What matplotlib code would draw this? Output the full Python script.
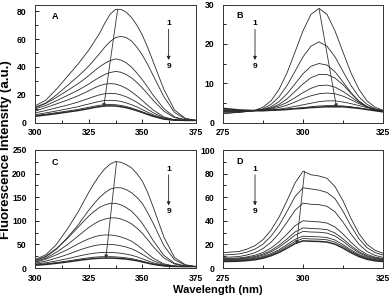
import matplotlib.pyplot as plt
from matplotlib.ticker import MultipleLocator

plt.rcParams['font.family'] = ['Liberation Sans', 'DejaVu Sans']
plt.rcParams['font.weight'] = 'bold'

# wavelengths (nm)
wl_ac = [300, 305, 310, 315, 320, 322.5, 325, 327.5, 330, 332.5, 335, 337.5, 340,
         342.5, 345, 347.5, 350, 352.5, 355, 360, 365, 370, 375]
wl_bd = [275, 277.5, 280, 282.5, 285, 287.5, 290, 292.5, 295, 297.5, 300,
         302.5, 305, 307.5, 310, 312.5, 315, 317.5, 320, 322.5, 325]

# panel A, spectra 1..9
panel_a = [
    [12, 16, 24, 33, 42, 47, 52, 58, 64, 71.5, 78, 81.5, 81.5, 79.5, 75.5, 70, 63, 54, 44, 24, 9, 3, 1.5],
    [11, 14.0, 19.9, 26.5, 33.2, 36.8, 40.6, 45, 49.5, 54.3, 58.3, 61.2, 62, 61.2, 58.6, 54.2, 48.6, 41.8, 34.0, 18.7, 7.2, 2.6, 1.5],
    [10.5, 13.7, 18.1, 22.9, 27.9, 30.7, 33.7, 37, 40.0, 42.6, 44.6, 45.8, 45.0, 43, 39.8, 35.6, 30.8, 25.4, 19.8, 10.0, 4.0, 1.9, 1.5],
    [9.8, 12.2, 15.7, 19.4, 23.2, 25.4, 27.7, 30.2, 32.5, 34.6, 36.0, 36.8, 36.2, 34.6, 32.1, 28.8, 24.9, 20.6, 16.1, 8.2, 3.5, 1.9, 1.5],
    [8.2, 10.7, 13.4, 16.1, 19.2, 21.0, 22.8, 24.8, 26.5, 27.6, 28, 27.7, 26.5, 24.6, 22.1, 19.1, 15.8, 12.4, 9.1, 4.0, 2.0, 1.5, 1.5],
    [6.9, 8.6, 10.6, 12.5, 14.7, 16.0, 17.3, 18.7, 19.9, 20.7, 21, 20.8, 19.9, 18.5, 16.7, 14.5, 12.0, 9.5, 7.1, 3.4, 1.9, 1.5, 1.5],
    [5.6, 6.9, 8.3, 9.8, 11.4, 12.4, 13.3, 14.3, 15.2, 15.8, 16, 15.8, 15.2, 14.1, 12.8, 11.2, 9.3, 7.4, 5.6, 2.9, 1.8, 1.5, 1.5],
    [5.0, 6.0, 7.1, 8.2, 9.4, 10.2, 10.9, 11.7, 12.4, 12.9, 13, 12.8, 12.3, 11.5, 10.4, 9.1, 7.7, 6.2, 4.8, 2.6, 1.7, 1.5, 1.5],
    [4.5, 5.4, 6.4, 7.5, 8.6, 9.3, 10.0, 10.8, 11.4, 11.9, 12, 11.9, 11.4, 10.7, 9.7, 8.5, 7.2, 5.8, 4.5, 2.5, 1.7, 1.5, 1.5],
]

# panel B
panel_b = [
    [2.2, 2.4, 2.6, 2.8, 3.1, 3.9, 5.5, 8.4, 12.6, 17.9, 23.3, 27.5, 29, 27.5, 23.3, 17.9, 12.6, 8.4, 5.5, 3.9, 3.1],
    [2.4, 2.5, 2.6, 2.8, 3.0, 3.5, 4.6, 6.5, 9.4, 13.0, 16.7, 19.4, 20.5, 19.4, 16.7, 13.0, 9.4, 6.5, 4.6, 3.5, 3.0],
    [2.6, 2.7, 2.7, 2.8, 3.0, 3.3, 4.0, 5.3, 7.3, 9.8, 12.4, 14.3, 15.0, 14.6, 12.9, 10.3, 7.6, 5.4, 4.0, 3.2, 2.9],
    [2.8, 2.8, 2.8, 2.9, 3.0, 3.2, 3.7, 4.6, 6.0, 7.9, 9.8, 11.4, 12.2, 12.2, 11.3, 9.6, 7.4, 5.4, 4.0, 3.2, 2.9],
    [2.9, 2.9, 2.9, 3.0, 3.1, 3.3, 3.6, 4.2, 5.1, 6.3, 7.6, 8.7, 9.4, 9.5, 9.0, 7.9, 6.5, 5.1, 4.0, 3.3, 2.9],
    [3.0, 3.0, 3.0, 3.0, 3.1, 3.2, 3.4, 3.8, 4.4, 5.2, 6.1, 6.8, 7.3, 7.5, 7.3, 6.7, 5.8, 4.8, 4.0, 3.4, 3.0],
    [3.1, 3.1, 3.1, 3.1, 3.1, 3.2, 3.2, 3.4, 3.7, 4.1, 4.5, 4.9, 5.3, 5.5, 5.5, 5.2, 4.8, 4.3, 3.8, 3.3, 3.0],
    [3.3, 3.2, 3.1, 3.0, 3.0, 3.0, 3.1, 3.2, 3.4, 3.6, 3.8, 4.0, 4.2, 4.3, 4.3, 4.2, 4.0, 3.7, 3.4, 3.1, 2.8],
    [3.6, 3.4, 3.2, 3.1, 3.0, 3.0, 3.1, 3.2, 3.3, 3.5, 3.6, 3.8, 3.9, 4.0, 4.0, 4.0, 3.8, 3.6, 3.3, 3.0, 2.7],
]

# panel C
panel_c = [
    [18, 28, 50, 82, 118, 139, 160, 179, 196, 210, 220, 225.5, 224, 219, 212, 200, 184, 160, 130, 66, 22, 7, 3],
    [16, 23.5, 39.9, 63.9, 90.7, 106.5, 122.1, 136.2, 149.1, 159.2, 167.1, 170, 170, 166, 159.5, 149.5, 136.8, 117, 95.2, 47.6, 17.4, 6.0, 3],
    [15.2, 24.9, 41.4, 62.1, 86.0, 98.2, 109.9, 119.8, 128.3, 133.6, 136.9, 137, 133.8, 128, 120.3, 108.5, 94.4, 77, 58.4, 26.9, 10.0, 4.2, 3],
    [13.4, 20.8, 33.4, 49.2, 67.4, 76.7, 85.6, 93.2, 99.6, 103.6, 106.1, 106.2, 103.8, 99.5, 93.4, 84.4, 73.4, 60, 45.6, 21.4, 8.4, 3.9, 3],
    [12.0, 18.5, 28.0, 38.6, 51.0, 56.7, 61.7, 65.8, 68.8, 70.0, 70, 68.6, 65.8, 61.9, 56.7, 49, 40.0, 30.2, 20.9, 8.8, 4.2, 3, 3],
    [10.1, 14.5, 21.1, 28.4, 36.9, 40.8, 44.3, 47.2, 49.2, 50.0, 50, 49.0, 47.0, 44.4, 40.6, 35.3, 28.9, 22.0, 15.5, 7.0, 3.8, 3, 3],
    [8.3, 11.0, 15.1, 19.6, 24.9, 27.4, 29.5, 31.3, 32.5, 33.0, 33, 32.4, 31.1, 29.4, 27.0, 23.7, 19.6, 15.2, 11.0, 5.6, 3.5, 3, 3],
    [6.9, 8.8, 11.6, 14.7, 18.4, 20.1, 21.6, 22.9, 23.7, 24.0, 24, 23.6, 22.7, 21.5, 19.8, 17.5, 14.6, 11.5, 8.6, 4.8, 3.4, 3, 3],
    [5.8, 7.5, 10.0, 12.8, 16.0, 17.5, 18.8, 20.0, 20.7, 21.0, 21, 20.7, 19.9, 18.9, 17.4, 15.4, 12.9, 10.3, 7.8, 4.5, 3.3, 3, 3],
]

# panel D
panel_d = [
    [13, 13.5, 14, 16, 19, 24, 32, 43, 57, 72, 82, 79, 78, 76, 69, 57, 42, 29, 20, 15, 12.5],
    [11, 11.4, 11.9, 13.5, 16.0, 20.2, 26.9, 36.1, 47.9, 60.5, 68, 67, 66, 64, 58.8, 48.1, 35.6, 24.7, 17.2, 13.1, 11],
    [9, 9.3, 9.7, 11.0, 13.0, 16.5, 21.8, 29.3, 38.8, 48.9, 55, 54, 53.7, 52.3, 47.6, 38.9, 28.8, 20.1, 14.0, 10.7, 9],
    [8, 8.2, 8.5, 9.4, 10.8, 13.2, 16.9, 22.1, 28.7, 35.8, 40, 39.5, 39.1, 38.1, 34.8, 28.8, 21.8, 15.7, 11.5, 9.2, 8],
    [7.5, 7.7, 7.9, 8.7, 9.8, 11.8, 14.9, 19.2, 24.6, 30.5, 34, 33.5, 33.2, 32.5, 29.7, 24.7, 18.9, 13.9, 10.4, 8.5, 7.5],
    [7, 7.2, 7.4, 8.1, 9.1, 10.9, 13.7, 17.6, 22.5, 27.8, 31, 30.5, 30.3, 29.6, 27.1, 22.6, 17.3, 12.8, 9.6, 7.9, 7],
    [6.5, 6.6, 6.8, 7.4, 8.3, 9.8, 12.2, 15.5, 19.8, 24.3, 27, 26.6, 26.4, 25.8, 23.7, 19.8, 15.3, 11.4, 8.7, 7.2, 6.5],
    [6, 6.1, 6.3, 6.8, 7.7, 9.1, 11.3, 14.4, 18.3, 22.5, 25, 24.6, 24.4, 23.9, 21.9, 18.4, 14.2, 10.6, 8.1, 6.7, 6],
    [5.5, 5.6, 5.8, 6.3, 7.0, 8.3, 10.4, 13.2, 16.8, 20.7, 23, 22.7, 22.5, 22.0, 20.2, 16.9, 13.0, 9.7, 7.4, 6.1, 5.5],
]

# peak shift arrows (start at spectrum 1 max, end near spectrum 9 max)
shift_a = [(338.5, 81.5), (332, 11)]
shift_b = [(305, 29), (310.5, 3.8)]
shift_c = [(338, 225), (333, 20)]
shift_d = [(300.5, 82), (298, 20)]

fig = plt.figure(figsize=(3.92, 3.0), dpi=100)

# rect, x, curves, shift arrow, letter, xlim, ymax, x major, y major, letter pos, "1->9" x pos
panels = [
    ([35/392, 1-122.5/300, 161/392, 118/300], wl_ac, panel_a, shift_a, 'A',
     (300, 375), 85, 25, 20, (0.124, 0.895), 0.83),
    ([223/392, 1-122.5/300, 160/392, 118/300], wl_bd, panel_b, shift_b, 'B',
     (275, 325), 30, 25, 10, (0.106, 0.905), 0.20),
    ([35/392, 1-268/300, 161/392, 118/300], wl_ac, panel_c, shift_c, 'C',
     (300, 375), 250, 25, 50, (0.124, 0.895), 0.83),
    ([223/392, 1-268/300, 160/392, 118/300], wl_bd, panel_d, shift_d, 'D',
     (275, 325), 100, 25, 20, (0.106, 0.905), 0.20),
]

for rect, x, curves, shift, letter, xlim, ymax, xmaj, ymaj, lpos, lx in panels:
    ax = fig.add_axes(rect)
    for i, y in enumerate(curves):
        lw = 1.1 if i == len(curves) - 1 else 0.6
        ax.plot(x, y, color='#2a2a2a', lw=lw)
    ax.annotate('', xy=shift[1], xytext=shift[0],
                arrowprops=dict(arrowstyle='-|>', color='#333333', lw=0.6,
                                mutation_scale=5, shrinkA=0, shrinkB=0))
    ax.set_xlim(*xlim)
    ax.set_ylim(0, ymax)
    ax.xaxis.set_major_locator(MultipleLocator(xmaj))
    ax.xaxis.set_minor_locator(MultipleLocator(xmaj / 2))
    ax.yaxis.set_major_locator(MultipleLocator(ymaj))
    ax.yaxis.set_minor_locator(MultipleLocator(ymaj / 2))
    ax.tick_params(which='both', direction='in', labelsize=6.2, width=0.6)
    ax.tick_params(which='major', length=3)
    ax.tick_params(which='minor', length=2)
    ax.tick_params(axis='x', pad=4)
    ax.tick_params(axis='y', pad=6)
    for lab in ax.get_xticklabels() + ax.get_yticklabels():
        lab.set_fontweight('bold')
    for s in ax.spines.values():
        s.set_linewidth(0.7)
        s.set_color('#333333')
    ax.text(lpos[0], lpos[1], letter, transform=ax.transAxes, fontsize=6.5,
            fontweight='bold', ha='center', va='center')
    ax.text(lx, 0.835, '1', transform=ax.transAxes, fontsize=6,
            fontweight='bold', ha='center', va='center')
    ax.text(lx, 0.475, '9', transform=ax.transAxes, fontsize=6,
            fontweight='bold', ha='center', va='center')
    ax.annotate('', xy=(lx, 0.53), xytext=(lx, 0.79), xycoords='axes fraction',
                arrowprops=dict(arrowstyle='-|>', color='#222222', lw=0.6,
                                mutation_scale=5, shrinkA=0, shrinkB=0))

fig.text(218/392, 1-290/300, 'Wavelength (nm)', ha='center', va='center',
         fontsize=8, fontweight='bold')
fig.text(6/392, 0.5, 'Fluorescence Intensity (a.u.)', ha='center', va='center',
         rotation=90, fontsize=9.5, fontweight='bold')

fig.savefig('out.png', dpi=100, facecolor='white')
